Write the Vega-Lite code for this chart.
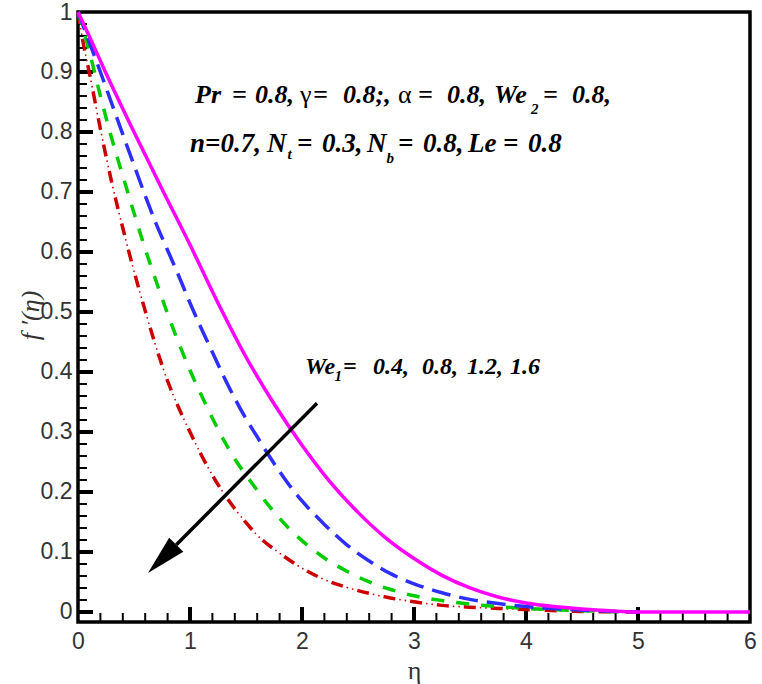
{
  "$schema": "https://vega.github.io/schema/vega-lite/v6.json",
  "width": 672,
  "height": 610,
  "autosize": "none",
  "padding": {"left": 78, "top": 12, "right": 12, "bottom": 62},
  "background": "white",
  "config": {
    "view": {"stroke": "black", "strokeWidth": 3.5},
    "axis": {"grid": false, "domain": false, "ticks": false, "tickSize": 0, "labelFont": "Liberation Sans", "labelFontSize": 23, "labelColor": "#333333", "titleFont": "Liberation Serif", "titleFontWeight": "normal", "titleColor": "#333333", "titleFontSize": 26}
  },
  "datasets": {
    "curves": [
      {"s": "0.4", "eta": 0, "f": 1.0}, {"s": "0.4", "eta": 0.1, "f": 0.96}, {"s": "0.4", "eta": 0.25, "f": 0.898}, {"s": "0.4", "eta": 0.5, "f": 0.8}, {"s": "0.4", "eta": 0.75, "f": 0.705}, {"s": "0.4", "eta": 1.0, "f": 0.612}, {"s": "0.4", "eta": 1.25, "f": 0.515}, {"s": "0.4", "eta": 1.5, "f": 0.425}, {"s": "0.4", "eta": 1.75, "f": 0.347}, {"s": "0.4", "eta": 2.0, "f": 0.278}, {"s": "0.4", "eta": 2.25, "f": 0.217}, {"s": "0.4", "eta": 2.5, "f": 0.166}, {"s": "0.4", "eta": 2.75, "f": 0.123}, {"s": "0.4", "eta": 3.0, "f": 0.089}, {"s": "0.4", "eta": 3.25, "f": 0.061}, {"s": "0.4", "eta": 3.5, "f": 0.04}, {"s": "0.4", "eta": 3.75, "f": 0.025}, {"s": "0.4", "eta": 4.0, "f": 0.015}, {"s": "0.4", "eta": 4.25, "f": 0.009}, {"s": "0.4", "eta": 4.5, "f": 0.005}, {"s": "0.4", "eta": 4.75, "f": 0.002}, {"s": "0.4", "eta": 5.0, "f": 0.0}, {"s": "0.4", "eta": 6.0, "f": 0.0},
      {"s": "0.8", "eta": 0, "f": 1.0}, {"s": "0.8", "eta": 0.1, "f": 0.95}, {"s": "0.8", "eta": 0.2, "f": 0.9}, {"s": "0.8", "eta": 0.3, "f": 0.848}, {"s": "0.8", "eta": 0.4, "f": 0.796}, {"s": "0.8", "eta": 0.5, "f": 0.745}, {"s": "0.8", "eta": 0.6, "f": 0.694}, {"s": "0.8", "eta": 0.7, "f": 0.646}, {"s": "0.8", "eta": 0.8, "f": 0.603}, {"s": "0.8", "eta": 0.9, "f": 0.56}, {"s": "0.8", "eta": 1.0, "f": 0.515}, {"s": "0.8", "eta": 1.1, "f": 0.473}, {"s": "0.8", "eta": 1.2, "f": 0.433}, {"s": "0.8", "eta": 1.3, "f": 0.393}, {"s": "0.8", "eta": 1.4, "f": 0.356}, {"s": "0.8", "eta": 1.5, "f": 0.322}, {"s": "0.8", "eta": 1.6, "f": 0.292}, {"s": "0.8", "eta": 1.7, "f": 0.262}, {"s": "0.8", "eta": 1.8, "f": 0.234}, {"s": "0.8", "eta": 1.9, "f": 0.208}, {"s": "0.8", "eta": 2.0, "f": 0.185}, {"s": "0.8", "eta": 2.2, "f": 0.146}, {"s": "0.8", "eta": 2.4, "f": 0.112}, {"s": "0.8", "eta": 2.6, "f": 0.085}, {"s": "0.8", "eta": 2.8, "f": 0.063}, {"s": "0.8", "eta": 3.0, "f": 0.047}, {"s": "0.8", "eta": 3.25, "f": 0.032}, {"s": "0.8", "eta": 3.5, "f": 0.021}, {"s": "0.8", "eta": 3.75, "f": 0.014}, {"s": "0.8", "eta": 4.0, "f": 0.009}, {"s": "0.8", "eta": 4.4, "f": 0.004}, {"s": "0.8", "eta": 4.8, "f": 0.001}, {"s": "0.8", "eta": 5.0, "f": 0.0},
      {"s": "1.2", "eta": 0, "f": 1.0}, {"s": "1.2", "eta": 0.1, "f": 0.935}, {"s": "1.2", "eta": 0.2, "f": 0.86}, {"s": "1.2", "eta": 0.3, "f": 0.79}, {"s": "1.2", "eta": 0.4, "f": 0.727}, {"s": "1.2", "eta": 0.5, "f": 0.665}, {"s": "1.2", "eta": 0.6, "f": 0.605}, {"s": "1.2", "eta": 0.7, "f": 0.55}, {"s": "1.2", "eta": 0.8, "f": 0.497}, {"s": "1.2", "eta": 0.9, "f": 0.448}, {"s": "1.2", "eta": 1.0, "f": 0.403}, {"s": "1.2", "eta": 1.1, "f": 0.362}, {"s": "1.2", "eta": 1.2, "f": 0.323}, {"s": "1.2", "eta": 1.3, "f": 0.287}, {"s": "1.2", "eta": 1.4, "f": 0.255}, {"s": "1.2", "eta": 1.5, "f": 0.228}, {"s": "1.2", "eta": 1.6, "f": 0.203}, {"s": "1.2", "eta": 1.7, "f": 0.178}, {"s": "1.2", "eta": 1.8, "f": 0.156}, {"s": "1.2", "eta": 1.9, "f": 0.136}, {"s": "1.2", "eta": 2.0, "f": 0.119}, {"s": "1.2", "eta": 2.2, "f": 0.09}, {"s": "1.2", "eta": 2.4, "f": 0.068}, {"s": "1.2", "eta": 2.6, "f": 0.05}, {"s": "1.2", "eta": 2.8, "f": 0.037}, {"s": "1.2", "eta": 3.0, "f": 0.027}, {"s": "1.2", "eta": 3.25, "f": 0.019}, {"s": "1.2", "eta": 3.5, "f": 0.013}, {"s": "1.2", "eta": 3.75, "f": 0.009}, {"s": "1.2", "eta": 4.0, "f": 0.006}, {"s": "1.2", "eta": 4.5, "f": 0.002}, {"s": "1.2", "eta": 5.0, "f": 0.0},
      {"s": "1.6", "eta": 0, "f": 1.0}, {"s": "1.6", "eta": 0.05, "f": 0.945}, {"s": "1.6", "eta": 0.1, "f": 0.9}, {"s": "1.6", "eta": 0.2, "f": 0.805}, {"s": "1.6", "eta": 0.3, "f": 0.717}, {"s": "1.6", "eta": 0.4, "f": 0.64}, {"s": "1.6", "eta": 0.5, "f": 0.568}, {"s": "1.6", "eta": 0.6, "f": 0.502}, {"s": "1.6", "eta": 0.7, "f": 0.44}, {"s": "1.6", "eta": 0.8, "f": 0.385}, {"s": "1.6", "eta": 0.9, "f": 0.34}, {"s": "1.6", "eta": 1.0, "f": 0.3}, {"s": "1.6", "eta": 1.1, "f": 0.262}, {"s": "1.6", "eta": 1.2, "f": 0.228}, {"s": "1.6", "eta": 1.3, "f": 0.198}, {"s": "1.6", "eta": 1.4, "f": 0.172}, {"s": "1.6", "eta": 1.5, "f": 0.149}, {"s": "1.6", "eta": 1.6, "f": 0.128}, {"s": "1.6", "eta": 1.8, "f": 0.098}, {"s": "1.6", "eta": 2.0, "f": 0.073}, {"s": "1.6", "eta": 2.2, "f": 0.054}, {"s": "1.6", "eta": 2.4, "f": 0.041}, {"s": "1.6", "eta": 2.6, "f": 0.031}, {"s": "1.6", "eta": 2.8, "f": 0.023}, {"s": "1.6", "eta": 3.0, "f": 0.017}, {"s": "1.6", "eta": 3.25, "f": 0.011}, {"s": "1.6", "eta": 3.5, "f": 0.008}, {"s": "1.6", "eta": 3.75, "f": 0.006}, {"s": "1.6", "eta": 4.0, "f": 0.004}, {"s": "1.6", "eta": 4.5, "f": 0.001}, {"s": "1.6", "eta": 5.0, "f": 0.0}
    ],
    "ticks": [
      {"kind": "major", "x": 1, "y": -0.0167, "x2": 1, "y2": 0.0083}, {"kind": "major", "x": 2, "y": -0.0167, "x2": 2, "y2": 0.0083}, {"kind": "major", "x": 3, "y": -0.0167, "x2": 3, "y2": 0.0083}, {"kind": "major", "x": 4, "y": -0.0167, "x2": 4, "y2": 0.0083}, {"kind": "major", "x": 5, "y": -0.0167, "x2": 5, "y2": 0.0083},
      {"kind": "minor", "x": 0.2, "y": -0.0167, "x2": 0.2, "y2": -0.0017}, {"kind": "minor", "x": 0.4, "y": -0.0167, "x2": 0.4, "y2": -0.0017}, {"kind": "minor", "x": 0.6, "y": -0.0167, "x2": 0.6, "y2": -0.0017}, {"kind": "minor", "x": 0.8, "y": -0.0167, "x2": 0.8, "y2": -0.0017},
      {"kind": "minor", "x": 1.2, "y": -0.0167, "x2": 1.2, "y2": -0.0017}, {"kind": "minor", "x": 1.4, "y": -0.0167, "x2": 1.4, "y2": -0.0017}, {"kind": "minor", "x": 1.6, "y": -0.0167, "x2": 1.6, "y2": -0.0017}, {"kind": "minor", "x": 1.8, "y": -0.0167, "x2": 1.8, "y2": -0.0017},
      {"kind": "minor", "x": 2.2, "y": -0.0167, "x2": 2.2, "y2": -0.0017}, {"kind": "minor", "x": 2.4, "y": -0.0167, "x2": 2.4, "y2": -0.0017}, {"kind": "minor", "x": 2.6, "y": -0.0167, "x2": 2.6, "y2": -0.0017}, {"kind": "minor", "x": 2.8, "y": -0.0167, "x2": 2.8, "y2": -0.0017},
      {"kind": "minor", "x": 3.2, "y": -0.0167, "x2": 3.2, "y2": -0.0017}, {"kind": "minor", "x": 3.4, "y": -0.0167, "x2": 3.4, "y2": -0.0017}, {"kind": "minor", "x": 3.6, "y": -0.0167, "x2": 3.6, "y2": -0.0017}, {"kind": "minor", "x": 3.8, "y": -0.0167, "x2": 3.8, "y2": -0.0017},
      {"kind": "minor", "x": 4.2, "y": -0.0167, "x2": 4.2, "y2": -0.0017}, {"kind": "minor", "x": 4.4, "y": -0.0167, "x2": 4.4, "y2": -0.0017}, {"kind": "minor", "x": 4.6, "y": -0.0167, "x2": 4.6, "y2": -0.0017}, {"kind": "minor", "x": 4.8, "y": -0.0167, "x2": 4.8, "y2": -0.0017},
      {"kind": "minor", "x": 5.2, "y": -0.0167, "x2": 5.2, "y2": -0.0017}, {"kind": "minor", "x": 5.4, "y": -0.0167, "x2": 5.4, "y2": -0.0017}, {"kind": "minor", "x": 5.6, "y": -0.0167, "x2": 5.6, "y2": -0.0017}, {"kind": "minor", "x": 5.8, "y": -0.0167, "x2": 5.8, "y2": -0.0017},
      {"kind": "major", "x": 0, "y": 0, "x2": 0.134, "y2": 0}, {"kind": "major", "x": 0, "y": 0.1, "x2": 0.134, "y2": 0.1}, {"kind": "major", "x": 0, "y": 0.2, "x2": 0.134, "y2": 0.2}, {"kind": "major", "x": 0, "y": 0.3, "x2": 0.134, "y2": 0.3}, {"kind": "major", "x": 0, "y": 0.4, "x2": 0.134, "y2": 0.4}, {"kind": "major", "x": 0, "y": 0.5, "x2": 0.134, "y2": 0.5}, {"kind": "major", "x": 0, "y": 0.6, "x2": 0.134, "y2": 0.6}, {"kind": "major", "x": 0, "y": 0.7, "x2": 0.134, "y2": 0.7}, {"kind": "major", "x": 0, "y": 0.8, "x2": 0.134, "y2": 0.8}, {"kind": "major", "x": 0, "y": 0.9, "x2": 0.134, "y2": 0.9},
      {"kind": "minor", "x": 0, "y": 0.02, "x2": 0.08, "y2": 0.02}, {"kind": "minor", "x": 0, "y": 0.04, "x2": 0.08, "y2": 0.04}, {"kind": "minor", "x": 0, "y": 0.06, "x2": 0.08, "y2": 0.06}, {"kind": "minor", "x": 0, "y": 0.08, "x2": 0.08, "y2": 0.08},
      {"kind": "minor", "x": 0, "y": 0.12, "x2": 0.08, "y2": 0.12}, {"kind": "minor", "x": 0, "y": 0.14, "x2": 0.08, "y2": 0.14}, {"kind": "minor", "x": 0, "y": 0.16, "x2": 0.08, "y2": 0.16}, {"kind": "minor", "x": 0, "y": 0.18, "x2": 0.08, "y2": 0.18},
      {"kind": "minor", "x": 0, "y": 0.22, "x2": 0.08, "y2": 0.22}, {"kind": "minor", "x": 0, "y": 0.24, "x2": 0.08, "y2": 0.24}, {"kind": "minor", "x": 0, "y": 0.26, "x2": 0.08, "y2": 0.26}, {"kind": "minor", "x": 0, "y": 0.28, "x2": 0.08, "y2": 0.28},
      {"kind": "minor", "x": 0, "y": 0.32, "x2": 0.08, "y2": 0.32}, {"kind": "minor", "x": 0, "y": 0.34, "x2": 0.08, "y2": 0.34}, {"kind": "minor", "x": 0, "y": 0.36, "x2": 0.08, "y2": 0.36}, {"kind": "minor", "x": 0, "y": 0.38, "x2": 0.08, "y2": 0.38},
      {"kind": "minor", "x": 0, "y": 0.42, "x2": 0.08, "y2": 0.42}, {"kind": "minor", "x": 0, "y": 0.44, "x2": 0.08, "y2": 0.44}, {"kind": "minor", "x": 0, "y": 0.46, "x2": 0.08, "y2": 0.46}, {"kind": "minor", "x": 0, "y": 0.48, "x2": 0.08, "y2": 0.48},
      {"kind": "minor", "x": 0, "y": 0.52, "x2": 0.08, "y2": 0.52}, {"kind": "minor", "x": 0, "y": 0.54, "x2": 0.08, "y2": 0.54}, {"kind": "minor", "x": 0, "y": 0.56, "x2": 0.08, "y2": 0.56}, {"kind": "minor", "x": 0, "y": 0.58, "x2": 0.08, "y2": 0.58},
      {"kind": "minor", "x": 0, "y": 0.62, "x2": 0.08, "y2": 0.62}, {"kind": "minor", "x": 0, "y": 0.64, "x2": 0.08, "y2": 0.64}, {"kind": "minor", "x": 0, "y": 0.66, "x2": 0.08, "y2": 0.66}, {"kind": "minor", "x": 0, "y": 0.68, "x2": 0.08, "y2": 0.68},
      {"kind": "minor", "x": 0, "y": 0.72, "x2": 0.08, "y2": 0.72}, {"kind": "minor", "x": 0, "y": 0.74, "x2": 0.08, "y2": 0.74}, {"kind": "minor", "x": 0, "y": 0.76, "x2": 0.08, "y2": 0.76}, {"kind": "minor", "x": 0, "y": 0.78, "x2": 0.08, "y2": 0.78},
      {"kind": "minor", "x": 0, "y": 0.82, "x2": 0.08, "y2": 0.82}, {"kind": "minor", "x": 0, "y": 0.84, "x2": 0.08, "y2": 0.84}, {"kind": "minor", "x": 0, "y": 0.86, "x2": 0.08, "y2": 0.86}, {"kind": "minor", "x": 0, "y": 0.88, "x2": 0.08, "y2": 0.88},
      {"kind": "minor", "x": 0, "y": 0.92, "x2": 0.08, "y2": 0.92}, {"kind": "minor", "x": 0, "y": 0.94, "x2": 0.08, "y2": 0.94}, {"kind": "minor", "x": 0, "y": 0.96, "x2": 0.08, "y2": 0.96}, {"kind": "minor", "x": 0, "y": 0.98, "x2": 0.08, "y2": 0.98}
    ],
    "labels": [
      {"kind": "l1", "x": 1.045, "y": 0.862, "text": "Pr"},
      {"kind": "l1", "x": 1.375, "y": 0.862, "text": "="},
      {"kind": "l1", "x": 1.58, "y": 0.862, "text": "0.8,"},
      {"kind": "greek", "x": 1.982, "y": 0.862, "text": "γ"},
      {"kind": "l1", "x": 2.098, "y": 0.862, "text": "="},
      {"kind": "l1", "x": 2.366, "y": 0.862, "text": "0.8;,"},
      {"kind": "greek", "x": 2.857, "y": 0.862, "text": "α"},
      {"kind": "l1", "x": 3.036, "y": 0.862, "text": "="},
      {"kind": "l1", "x": 3.295, "y": 0.862, "text": "0.8,"},
      {"kind": "l1", "x": 3.714, "y": 0.862, "text": "We"},
      {"kind": "sub", "x": 4.045, "y": 0.838, "text": "2"},
      {"kind": "l1", "x": 4.152, "y": 0.862, "text": "="},
      {"kind": "l1", "x": 4.411, "y": 0.862, "text": "0.8,"},
      {"kind": "l2", "x": 1.0, "y": 0.78, "text": "n=0.7,"},
      {"kind": "l2", "x": 1.6875, "y": 0.78, "text": "N"},
      {"kind": "sub", "x": 1.87, "y": 0.763, "text": "t"},
      {"kind": "l2", "x": 1.955, "y": 0.78, "text": "="},
      {"kind": "l2", "x": 2.179, "y": 0.78, "text": "0.3,"},
      {"kind": "l2", "x": 2.58, "y": 0.78, "text": "N"},
      {"kind": "sub", "x": 2.755, "y": 0.757, "text": "b"},
      {"kind": "l2", "x": 2.857, "y": 0.78, "text": "="},
      {"kind": "l2", "x": 3.08, "y": 0.78, "text": "0.8,"},
      {"kind": "l2", "x": 3.482, "y": 0.78, "text": "Le"},
      {"kind": "l2", "x": 3.795, "y": 0.78, "text": "="},
      {"kind": "l2", "x": 4.018, "y": 0.78, "text": "0.8"},
      {"kind": "l3", "x": 2.027, "y": 0.408, "text": "We"},
      {"kind": "sub", "x": 2.29, "y": 0.393, "text": "1"},
      {"kind": "l3", "x": 2.366, "y": 0.408, "text": "="},
      {"kind": "l3", "x": 2.634, "y": 0.408, "text": "0.4,"},
      {"kind": "l3", "x": 3.071, "y": 0.408, "text": "0.8,"},
      {"kind": "l3", "x": 3.473, "y": 0.408, "text": "1.2,"},
      {"kind": "l3", "x": 3.857, "y": 0.408, "text": "1.6"}
    ],
    "arrow": [{"x": 2.134, "y": 0.348, "x2": 0.878, "y2": 0.112, "hx": 0.751, "hy": 0.0885}]
  },
  "encoding": {
    "x": {"field": "eta", "type": "quantitative", "scale": {"domain": [0, 6], "nice": false, "zero": false},
      "axis": {"orient": "bottom", "title": "η", "values": [0,1,2,3,4,5,6], "format": "~g",
        "labelPadding": 8, "labelFlush": false, "titleX": 336, "titleY": 48, "titleBaseline": "middle", "titleAlign": "center"}},
    "y": {"field": "f", "type": "quantitative", "scale": {"domain": [-0.0167, 1], "nice": false, "zero": false},
      "axis": {"orient": "left", "title": "f ′(η)", "titleFontStyle": "italic", "values": [0,0.1,0.2,0.3,0.4,0.5,0.6,0.7,0.8,0.9,1], "format": "~g",
        "labelPadding": 6, "labelFlush": false, "titleX": -48, "titleY": 303, "titleBaseline": "middle", "titleAlign": "center", "titleAngle": -90}}
  },
  "layer": [
    {"data": {"name": "ticks"}, "transform": [{"filter": "datum.kind === 'major'"}],
      "mark": {"type": "rule", "color": "black", "strokeWidth": 4},
      "encoding": {"x": {"field": "x", "type": "quantitative"}, "y": {"field": "y", "type": "quantitative"}, "x2": {"field": "x2"}, "y2": {"field": "y2"}}},
    {"data": {"name": "ticks"}, "transform": [{"filter": "datum.kind === 'minor'"}],
      "mark": {"type": "rule", "color": "black", "strokeWidth": 2},
      "encoding": {"x": {"field": "x", "type": "quantitative"}, "y": {"field": "y", "type": "quantitative"}, "x2": {"field": "x2"}, "y2": {"field": "y2"}}},
    {"data": {"name": "curves"}, "transform": [{"filter": "datum.s === '1.6'"}],
      "mark": {"type": "line", "color": "#cc0000", "strokeWidth": 3.5, "strokeDash": [12, 15], "interpolate": "monotone"}},
    {"data": {"name": "curves"}, "transform": [{"filter": "datum.s === '1.6'"}],
      "mark": {"type": "line", "color": "#cc0000", "strokeWidth": 1.6, "strokeDash": [0, 16, 1.5, 4, 1.5, 4], "interpolate": "monotone"}},
    {"data": {"name": "curves"}, "transform": [{"filter": "datum.s === '1.2'"}],
      "mark": {"type": "line", "color": "#00cc00", "strokeWidth": 3.5, "strokeDash": [13, 12], "interpolate": "monotone"}},
    {"data": {"name": "curves"}, "transform": [{"filter": "datum.s === '0.8'"}],
      "mark": {"type": "line", "color": "#2e2eff", "strokeWidth": 3.5, "strokeDash": [19, 9], "interpolate": "monotone"}},
    {"data": {"name": "curves"}, "transform": [{"filter": "datum.s === '0.4'"}],
      "mark": {"type": "line", "color": "#ff00ff", "strokeWidth": 3.5, "interpolate": "monotone"}},
    {"data": {"name": "arrow"},
      "mark": {"type": "rule", "color": "black", "strokeWidth": 3.5},
      "encoding": {"x": {"field": "x", "type": "quantitative"}, "y": {"field": "y", "type": "quantitative"}, "x2": {"field": "x2"}, "y2": {"field": "y2"}}},
    {"data": {"name": "arrow"},
      "mark": {"type": "point", "shape": "M0,-1L0.5,1L-0.5,1Z", "size": 1600, "angle": 225, "filled": true, "color": "black", "opacity": 1},
      "encoding": {"x": {"field": "hx", "type": "quantitative"}, "y": {"field": "hy", "type": "quantitative"}}},
    {"data": {"name": "labels"}, "transform": [{"filter": "datum.kind === 'l1'"}],
      "mark": {"type": "text", "align": "left", "baseline": "middle", "font": "Liberation Serif", "fontSize": 26, "fontStyle": "italic", "fontWeight": "bold", "color": "black"},
      "encoding": {"x": {"field": "x", "type": "quantitative"}, "y": {"field": "y", "type": "quantitative"}, "text": {"field": "text"}}},
    {"data": {"name": "labels"}, "transform": [{"filter": "datum.kind === 'l2'"}],
      "mark": {"type": "text", "align": "left", "baseline": "middle", "font": "Liberation Serif", "fontSize": 27, "fontStyle": "italic", "fontWeight": "bold", "color": "black"},
      "encoding": {"x": {"field": "x", "type": "quantitative"}, "y": {"field": "y", "type": "quantitative"}, "text": {"field": "text"}}},
    {"data": {"name": "labels"}, "transform": [{"filter": "datum.kind === 'l3'"}],
      "mark": {"type": "text", "align": "left", "baseline": "middle", "font": "Liberation Serif", "fontSize": 24, "fontStyle": "italic", "fontWeight": "bold", "color": "black"},
      "encoding": {"x": {"field": "x", "type": "quantitative"}, "y": {"field": "y", "type": "quantitative"}, "text": {"field": "text"}}},
    {"data": {"name": "labels"}, "transform": [{"filter": "datum.kind === 'greek'"}],
      "mark": {"type": "text", "align": "left", "baseline": "middle", "font": "Liberation Serif", "fontSize": 26, "color": "black"},
      "encoding": {"x": {"field": "x", "type": "quantitative"}, "y": {"field": "y", "type": "quantitative"}, "text": {"field": "text"}}},
    {"data": {"name": "labels"}, "transform": [{"filter": "datum.kind === 'sub'"}],
      "mark": {"type": "text", "align": "left", "baseline": "middle", "font": "Liberation Serif", "fontSize": 15, "fontStyle": "italic", "fontWeight": "bold", "color": "black"},
      "encoding": {"x": {"field": "x", "type": "quantitative"}, "y": {"field": "y", "type": "quantitative"}, "text": {"field": "text"}}}
  ]
}
